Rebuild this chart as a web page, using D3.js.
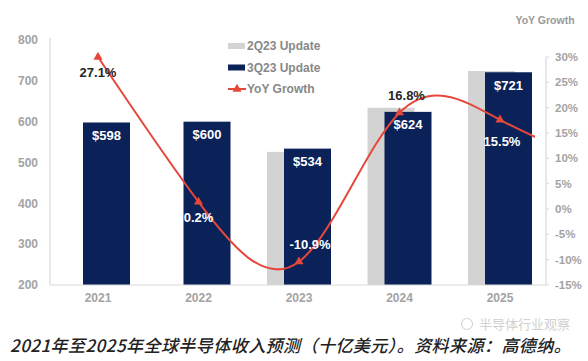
<!DOCTYPE html>
<html lang="en">
<head>
<meta charset="UTF-8">
<title>Global semiconductor revenue forecast</title>
<script src="https://d3js.org/d3.v7.min.js"></script>
<style>
    body {
        margin: 0;
        padding: 0;
        background: #fff;
    }
    svg {
        display: block;
    }
</style>
</head>
<body>
<div id="wrapper"></div>
<script>
// 1. Data
const years = [2021, 2022, 2023, 2024, 2025]
const update2Q23 = [null, null, 526, 634, 724]
const update3Q23 = [598, 600, 534, 624, 721]
// growth as plotted on the right axis, plus the printed labels
const growthPlotted = [30.0, 1.4, -10.4, 19.0, 17.6]
const growthTail = 9          // where the curve heads after 2025 (cut off)
const growthLabels = ["27.1%", "0.2%", "-10.9%", "16.8%", "15.5%"]
const leftTicks = [200, 300, 400, 500, 600, 700, 800]
const rightTicks = [-15, -10, -5, 0, 5, 10, 15, 20, 25, 30]
const legendNames = ["2Q23 Update", "3Q23 Update", "YoY Growth"]
const caption = "2021年至2025年全球半导体收入预测（十亿美元）。资料来源：高德纳。"
const watermark = "半导体行业观察"

// 2. Dimensions
const width = 588
const height = 361
const plot = { left: 50, right: 546, top: 40, bottom: 285 }

const navy = "#0b2259"
const grey = "#d3d3d3"
const red = "#e5483b"
const axisText = "#a3a3a3"

// 3. Canvas
const svg = d3.select("#wrapper")
    .append("svg")
        .attr("width", width)
        .attr("height", height)
        .style("font-family", "Arial, 'Liberation Sans', sans-serif")

// 4. Scales
const xScale = d3.scaleLinear()
    .domain([2021, 2025])
    .range([98, 500])

const yLeft = d3.scaleLinear()
    .domain([200, 800])
    .range([plot.bottom, plot.top])

const yRight = d3.scaleLinear()
    .domain([-15, 30])
    .range([plot.bottom, 57])

const barW = 47
const greyOff = -32
const navyOff = -15

// 5. Axes lines
svg.append("line")
    .attr("x1", plot.left).attr("x2", plot.left)
    .attr("y1", plot.top - 2).attr("y2", plot.bottom)
    .attr("stroke", "#d9d9d9").attr("stroke-width", 1.2)

svg.append("line")
    .attr("x1", plot.right).attr("x2", plot.right)
    .attr("y1", yRight(30)).attr("y2", plot.bottom)
    .attr("stroke", "#d9d9d9").attr("stroke-width", 1.2)

// left tick labels
svg.append("g")
    .selectAll("text")
    .data(leftTicks)
    .join("text")
        .attr("x", 38)
        .attr("y", d => yLeft(d))
        .attr("dy", "0.35em")
        .attr("text-anchor", "end")
        .attr("font-size", 12)
        .attr("font-weight", "bold")
        .attr("fill", axisText)
        .text(d => d)

// right ticks + labels
const rAxis = svg.append("g")
rAxis.selectAll("line")
    .data(rightTicks)
    .join("line")
        .attr("x1", plot.right).attr("x2", plot.right + 3)
        .attr("y1", d => yRight(d)).attr("y2", d => yRight(d))
        .attr("stroke", "#d9d9d9")
rAxis.selectAll("text")
    .data(rightTicks)
    .join("text")
        .attr("x", 555)
        .attr("y", d => yRight(d))
        .attr("dy", "0.35em")
        .attr("font-size", 11.5)
        .attr("font-weight", "bold")
        .attr("fill", axisText)
        .text(d => d + "%")

svg.append("text")
    .attr("x", 545)
    .attr("y", 24)
    .attr("text-anchor", "middle")
    .attr("font-size", 10.5)
    .attr("font-weight", "bold")
    .attr("fill", "#999")
    .text("YoY Growth")

// 6. Bars
const rows = years.map((y, i) => ({ year: y, g: update2Q23[i], n: update3Q23[i], i }))

svg.append("g")
    .selectAll("rect")
    .data(rows.filter(d => d.g != null))
    .join("rect")
        .attr("x", d => xScale(d.year) + greyOff)
        .attr("width", barW)
        .attr("y", d => yLeft(d.g))
        .attr("height", d => plot.bottom - yLeft(d.g))
        .attr("fill", grey)

svg.append("g")
    .selectAll("rect")
    .data(rows)
    .join("rect")
        .attr("x", d => xScale(d.year) + navyOff)
        .attr("width", barW)
        .attr("y", d => yLeft(d.n))
        .attr("height", d => plot.bottom - yLeft(d.n))
        .attr("fill", navy)

svg.append("g")
    .selectAll("text")
    .data(rows)
    .join("text")
        .attr("x", d => xScale(d.year) + navyOff + barW / 2)
        .attr("y", d => yLeft(d.n) + 13)
        .attr("dy", "0.35em")
        .attr("text-anchor", "middle")
        .attr("font-size", 13)
        .attr("font-weight", "bold")
        .attr("fill", "#fff")
        .text(d => "$" + d.n)

// baseline
svg.append("line")
    .attr("x1", plot.left).attr("x2", plot.right)
    .attr("y1", plot.bottom).attr("y2", plot.bottom)
    .attr("stroke", "#d9d9d9").attr("stroke-width", 1.2)

// x labels
svg.append("g")
    .selectAll("text")
    .data(years)
    .join("text")
        .attr("x", d => xScale(d))
        .attr("y", 298)
        .attr("dy", "0.35em")
        .attr("text-anchor", "middle")
        .attr("font-size", 12)
        .attr("font-weight", "bold")
        .attr("fill", axisText)
        .text(d => d)

// 7. Growth line
const linePts = years.map((y, i) => [xScale(y), yRight(growthPlotted[i])])
linePts.push([xScale(2026), yRight(growthTail)])

svg.append("clipPath")
    .attr("id", "lineClip")
    .append("rect")
        .attr("x", 0).attr("y", 0)
        .attr("width", xScale(2025) + 35).attr("height", height)

const lineGenerator = d3.line().curve(d3.curveNatural)

svg.append("path")
    .attr("d", lineGenerator(linePts))
    .attr("clip-path", "url(#lineClip)")
    .attr("fill", "none")
    .attr("stroke", red)
    .attr("stroke-width", 2)

const tri = d3.symbol().type(d3.symbolTriangle).size(36)
svg.append("g")
    .selectAll("path")
    .data(linePts.slice(0, years.length))
    .join("path")
        .attr("transform", d => `translate(${d[0]},${d[1]})`)
        .attr("d", tri)
        .attr("fill", red)

// growth labels
const labelDy = [15, 16, -17, -17, 22]
const labelDx = [0, 0, 11, 7, 2]
const labelFill = ["#262626", "#fff", "#fff", "#262626", "#fff"]
svg.append("g")
    .selectAll("text")
    .data(growthLabels)
    .join("text")
        .attr("x", (d, i) => linePts[i][0] + labelDx[i])
        .attr("y", (d, i) => linePts[i][1] + labelDy[i])
        .attr("dy", "0.35em")
        .attr("text-anchor", "middle")
        .attr("font-size", 13)
        .attr("font-weight", "bold")
        .attr("fill", (d, i) => labelFill[i])
        .text(d => d)

// 8. Legend
const legend = svg.append("g").attr("transform", "translate(228,46)")
legendNames.forEach((name, i) => {
    const g = legend.append("g").attr("transform", `translate(0,${i * 21.5})`)
    if (i < 2) {
        g.append("rect")
            .attr("x", 0).attr("y", -3)
            .attr("width", 17).attr("height", 6)
            .attr("fill", i === 0 ? grey : navy)
    } else {
        g.append("line")
            .attr("x1", 0).attr("x2", 18)
            .attr("y1", 0).attr("y2", 0)
            .attr("stroke", red).attr("stroke-width", 2)
        g.append("path")
            .attr("transform", "translate(9,0)")
            .attr("d", tri)
            .attr("fill", red)
    }
    g.append("text")
        .attr("x", 19)
        .attr("y", 0)
        .attr("dy", "0.35em")
        .attr("font-size", 12)
        .attr("font-weight", "bold")
        .attr("fill", "#888")
        .text(name)
})

// 9. Caption + watermark
svg.append("text")
    .attr("x", 479)
    .attr("y", 324)
    .attr("dy", "0.35em")
    .attr("font-family", "'Noto Sans CJK SC', sans-serif")
    .attr("font-size", 13)
    .attr("fill", "#d0d0d0")
    .text(watermark)

svg.append("circle")
    .attr("cx", 467).attr("cy", 324).attr("r", 5.5)
    .attr("fill", "none").attr("stroke", "#d6d6d6").attr("stroke-width", 1.2)

svg.append("text")
    .attr("x", 10)
    .attr("y", 346)
    .attr("dy", "0.35em")
    .attr("font-family", "'Noto Sans CJK SC', sans-serif")
    .attr("font-size", 17)
    .attr("font-style", "italic")
    .attr("font-weight", 500)
    .attr("letter-spacing", 0.45)
    .attr("fill", "#222")
    .text(caption)
</script>
</body>
</html>
